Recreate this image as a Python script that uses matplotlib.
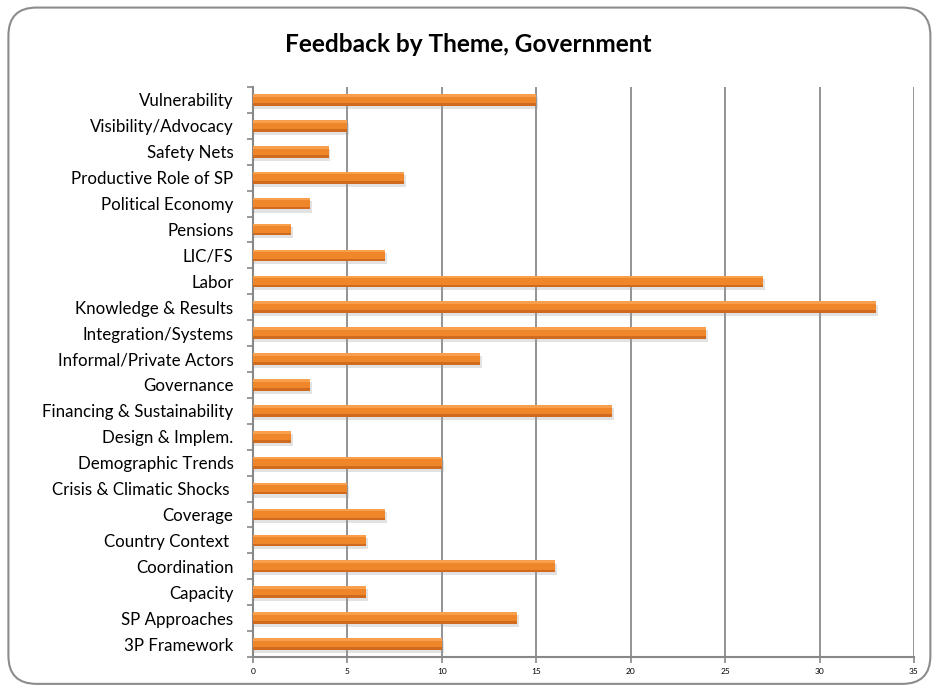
import matplotlib.pyplot as plt
from matplotlib.patches import FancyBboxPatch
import numpy as np

plt.rcParams['font.family'] = ['Lato', 'DejaVu Sans']

themes = ['3P Framework', 'SP Approaches', 'Capacity', 'Coordination', 'Country Context ',
          'Coverage', 'Crisis & Climatic Shocks ', 'Demographic Trends', 'Design & Implem.',
          'Financing & Sustainability', 'Governance', 'Informal/Private Actors',
          'Integration/Systems', 'Knowledge & Results', 'Labor', 'LIC/FS', 'Pensions',
          'Political Economy', 'Productive Role of SP', 'Safety Nets',
          'Visibility/Advocacy', 'Vulnerability']
counts = [10, 14, 6, 16, 6, 7, 5, 10, 2, 19, 3, 12, 24, 33, 27, 7, 2, 3, 8, 4, 5, 15]
xticks = [0, 5, 10, 15, 20, 25, 30, 35]

fig = plt.figure(figsize=(9.36, 6.88), dpi=100)

# rounded frame around the whole chart
frame = FancyBboxPatch((0.009, 0.006), 0.985, 0.983, boxstyle='round,pad=0,rounding_size=0.03',
                       transform=fig.transFigure, facecolor='white', edgecolor='#8c8c8c',
                       linewidth=1.5, mutation_aspect=936/688, zorder=-5)
fig.patches.append(frame)

ax = fig.add_axes([0.2703, 0.0451, 0.7062, 0.8284])
ax.set_facecolor('none')
ax.set_zorder(2)

y = np.arange(len(themes))
vals = np.array(counts)
h = 0.45
# soft shadow, main bar, shading bands
ax.barh(y - 0.12, vals + 0.1, height=h, color='#a0a0a0', alpha=0.3, zorder=2)
ax.barh(y, vals, height=h, color='#EF8629', zorder=3)
ax.barh(y + h / 2 - 0.05, vals, height=0.1, color='#F8A04E', zorder=4)
ax.barh(y - h / 2 + 0.05, vals, height=0.1, color='#D06A1E', zorder=4)

ax.set_xlim(0, 35)
ax.set_ylim(-0.5, len(themes) - 0.5)
ax.set_xticks(xticks)
ax.set_xticklabels([str(t) for t in xticks], fontsize=6)
ax.set_yticks(y)
ax.set_yticklabels(themes, fontsize=12.2)
ax.set_yticks(np.arange(len(themes) + 1) - 0.5, minor=True)
ax.tick_params(axis='y', which='major', length=0, pad=14)
ax.tick_params(axis='y', which='minor', length=4, width=1.2, color='#888888', direction='out')
ax.tick_params(axis='x', length=4, width=1.2, color='#888888', pad=4)

ax.xaxis.grid(True, color='#8a8a8a', linewidth=1.3, zorder=1)
ax.set_axisbelow(True)
for s in ['top', 'right']:
    ax.spines[s].set_visible(False)
for s in ['left', 'bottom']:
    ax.spines[s].set_color('#888888')
    ax.spines[s].set_linewidth(1.5)

fig.text(0.5, 0.936, 'Feedback by Theme, Government', ha='center', va='center',
         fontsize=17.6, fontweight='bold')

fig.savefig('out.png', dpi=100)
